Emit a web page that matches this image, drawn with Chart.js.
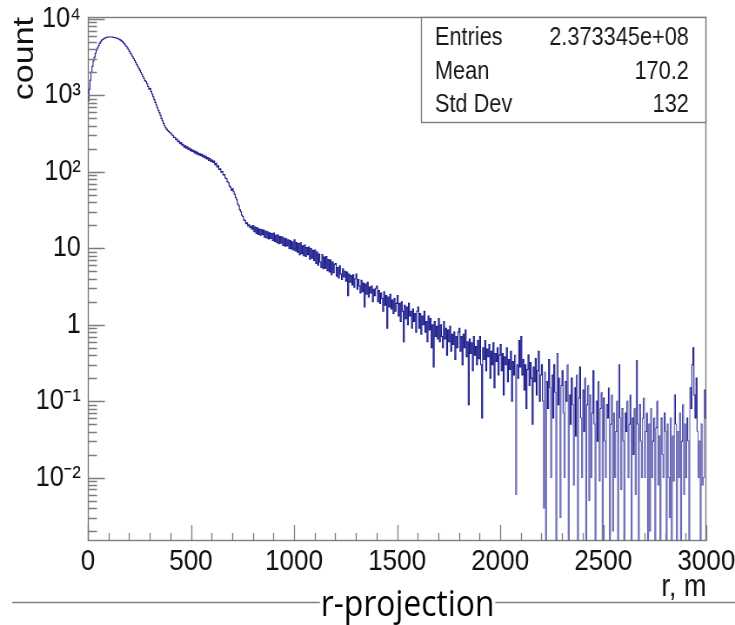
<!DOCTYPE html>
<html>
<head>
<meta charset="utf-8">
<script src="https://cdn.jsdelivr.net/npm/chart.js@4/dist/chart.umd.min.js"></script>
<style>
html,body{margin:0;padding:0;background:#ffffff;overflow:hidden;}
#wrap{width:735px;height:625px;position:relative;}
#c{display:block;width:735px;height:625px;}
</style>
</head>
<body>
<div id="wrap"><canvas id="c" width="845" height="625" style="width:735px;height:625px"></canvas></div>
<script>
// ---- data: histogram of r, 5 m bins from 0 to 3000 m (one row = 100 m) ----
const binWidth = 5;
const rMin = 0;
const rMax = 3000;
const counts = [
  850, 1200, 1580, 2000, 2400, 2820, 3160, 3550, 3890, 4170, 4470, 4790, 5010, 5250, 5370, 5500, 5620, 5690, 5750, 5790,
  5810, 5820, 5820, 5800, 5770, 5730, 5690, 5640, 5580, 5500, 5420, 5320, 5200, 5060, 4900, 4730, 4550, 4360, 4160, 3960,
  3760, 3550, 3380, 3200, 3030, 2860, 2700, 2540, 2400, 2270, 2140, 2010, 1890, 1770, 1660, 1560, 1520, 1420, 1310, 1200,
  1230, 1120, 1040, 960, 880, 810, 750, 690, 640, 595, 550, 500, 465, 430, 400, 378, 362, 348, 336, 326,
  322, 306, 300, 281, 283, 262, 268, 247, 252, 233, 241, 222, 230, 209, 219, 203, 212, 196, 204, 189,
  197, 184, 191, 176, 185, 171, 180, 166, 174, 162, 170, 158, 165, 152, 160, 147, 154, 141, 149, 137,
  143, 132, 138, 124, 129, 116, 120, 107, 110, 99, 101, 91, 92, 83, 82, 74, 72, 65, 63, 57,
  60, 55, 51, 46, 43, 38, 36, 32, 30, 27, 26, 23.5, 23, 21, 21.5, 19.6, 20.3, 18.6, 19.4, 17.8,
  19.8, 16.4, 18.9, 15.6, 18.6, 15.2, 17.9, 14.8, 17.6, 15.0, 17.3, 13.9, 16.8, 13.6, 16.4, 13.2, 15.9, 13.4, 15.6, 12.6,
  15.8, 12.3, 14.9, 11.8, 14.9, 11.5, 14.2, 11.6, 14.1, 10.9, 13.6, 10.6, 13.3, 10.7, 12.9, 9.9, 12.6, 9.8, 12.2, 9.5,
  12.9, 9.2, 11.9, 8.9, 11.5, 8.2, 11.8, 8.5, 10.8, 8.0, 11.0, 7.8, 10.2, 8.2, 10.4, 7.2, 9.9, 7.4, 9.4, 6.9,
  9.5, 6.3, 8.9, 6.0, 8.4, 6.6, 5.6, 8.3, 5.4, 7.7, 5.5, 7.8, 5.1, 7.1, 4.9, 7.0, 4.5, 6.6, 4.8, 6.2,
  6.3, 4.3, 5.6, 4.1, 5.9, 4.6, 3.9, 5.4, 4.2, 5.0, 3.7, 4.9, 2.4, 4.6, 3.6, 4.4, 3.3, 4.5, 3.1, 4.0,
  4.6, 2.9, 3.9, 3.2, 2.6, 3.8, 2.7, 3.5, 1.7, 3.4, 2.5, 3.6, 2.3, 3.1, 2.6, 3.2, 2.0, 2.9, 2.4, 3.0,
  3.2, 2.0, 2.8, 1.9, 2.6, 2.2, 1.5, 2.7, 1.8, 2.4, 0.9, 2.3, 1.7, 2.5, 1.6, 2.1, 1.4, 2.2, 1.5, 1.9,
  2.4, 1.3, 1.9, 1.1, 2.0, 1.5, 0.6, 1.8, 1.2, 1.7, 1.0, 1.9, 1.3, 1.5, 0.9, 1.6, 1.1, 1.4, 0.8, 1.5,
  1.7, 0.9, 1.4, 0.75, 1.3, 1.0, 1.5, 0.8, 1.1, 0.6, 1.3, 0.85, 1.2, 0.5, 1.0, 0.28, 1.1, 0.7, 0.95, 0.65,
  1.2, 0.6, 1.0, 0.7, 0.5, 1.1, 0.65, 0.9, 0.4, 0.85, 0.6, 0.95, 0.45, 0.75, 0.55, 0.8, 0.35, 0.7, 0.5, 0.8,
  0.9, 0.45, 0.7, 0.3, 0.75, 0.5, 0.85, 0.38, 0.6, 0.09, 0.65, 0.42, 0.58, 0.25, 0.7, 0.4, 0.52, 0.3, 0.62, 0.36,
  0.7, 0.3, 0.06, 0.5, 0.35, 0.62, 0.25, 0.48, 0.38, 0.55, 0.2, 0.45, 0.3, 0.58, 0.15, 0.42, 0.33, 0.5, 0.22, 0.4,
  0.55, 0.25, 0.42, 0.12, 0.38, 0.3, 0.5, 0.18, 0.35, 0.26, 0.45, 0.1, 0.33, 0.22, 0.4, 0.006, 0.3, 0.2, 0.62, 0.28,
  0.7, 0.22, 0.35, 0.14, 0.3, 0.08, 0.26, 0.4, 0.16, 0.32, 0.2, 0.05, 0.28, 0.18, 0.36, 0.12, 0.25, 0.45, 0.1, 0.22,
  0.3, 0.1, 0.004, 0.24, 0, 0.18, 0.08, 0.35, 0.15, 0.01, 0.22, 0.06, 0.3, 0.13, 0, 0.42, 0.09, 0.2, 0.003, 0.16,
  0.25, 0.07, 0.01, 0.18, 0.1, 0.3, 0, 0.12, 0.05, 0.2, 0.09, 0.008, 0.15, 0.035, 0.22, 0, 0.11, 0.28, 0.06, 0.01,
  0.14, 0.04, 0.2, 0, 0.09, 0.16, 0.005, 0.12, 0.01, 0.07, 0.25, 0.05, 0, 0.1, 0.03, 0.18, 0.009, 0.08, 0.13, 0,
  0.11, 0.03, 0.01, 0.09, 0.06, 0.15, 0, 0.05, 0.12, 0.002, 0.07, 0.01, 0.04, 0.1, 0, 0.3, 0.06, 0.007, 0.08, 0.03,
  0, 0.07, 0.04, 0.1, 0.01, 0.05, 0.12, 0, 0.06, 0.02, 0.08, 0.006, 0.34, 0.05, 0, 0.09, 0.03, 0.01, 0.06, 0.11,
  0.01, 0.04, 0.07, 0, 0.05, 0.002, 0.08, 0.01, 0.03, 0.06, 0, 0.045, 0.1, 0.008, 0.035, 0, 0.06, 0.02, 0.01, 0.07,
  0.04, 0, 0.05, 0.01, 0.003, 0.06, 0, 0.035, 0.009, 0.12, 0.05, 0, 0.04, 0.01, 0.07, 0, 0.03, 0.09, 0.006, 0.05,
  0.01, 0.06, 0.03, 0, 0.15, 0.08, 0.3, 0.5, 0.12, 0.06, 0.2, 0.04, 0.01, 0.03, 0, 0.05, 0.008, 0.01, 0.14, 0.06
];
const xTickLabels = ['0', '500', '1000', '1500', '2000', '2500', '3000'];
const yDecades = [1e-2, 1e-1, 1, 10, 1e2, 1e3, 1e4];
const yTickLabels = ['10\u207B\u00B2', '10\u207B\u00B9', '1', '10', '10\u00B2', '10\u00B3', '10\u2074'];
const statsNames = ['Entries', 'Mean', 'Std Dev'];
const statsValues = ['2.373345e+08', '170.2', '132'];
const xTitle = 'r, m';
const yTitle = 'count';
const caption = 'r-projection';

// ---- styling (canvas is drawn 845 px wide and shown 735 px wide, like the squeezed original) ----
const SANS = "'Liberation Sans', Arial, Helvetica, sans-serif";
const yMin = 0.00148, yMax = 10600;
const EMPTY = 1e-5; // empty bins are drawn down to the frame bottom, as ROOT does
const frameColor = '#7c7c7c';
const lineColor = '#15158a';
const dropColor = '#6262b4';

const points = counts.map((c, i) => ({x: rMin + i * binWidth, y: c > 0 ? c : EMPTY}));
points.push({x: rMax, y: points[points.length - 1].y});

const xTickValues = [];
for (let v = rMin; v <= rMax; v += 100) xTickValues.push(v);
const yTickValues = [];
for (let e = -3; e <= 4; e++) {
  for (let m = 1; m <= 9; m++) {
    const v = +(m * Math.pow(10, e)).toPrecision(6);
    if (v >= yMin && v <= yMax) yTickValues.push(v);
  }
}
function decadeIndex(v) { return yDecades.findIndex(d => Math.abs(d - v) / d < 1e-6); }

const framePlugin = {
  id: 'rootFrame',
  beforeDatasetsDraw(chart) {
    const {ctx, chartArea: a} = chart;
    ctx.save();
    ctx.strokeStyle = frameColor;
    ctx.lineWidth = 1.4;
    ctx.strokeRect(a.left + 0.5, a.top + 0.5, a.right - a.left - 1, a.bottom - a.top - 1);
    ctx.restore();
  },
  afterDatasetsDraw(chart) {
    const {ctx, chartArea: a, scales} = chart;
    const xs = scales.x, ys = scales.y;
    ctx.save();
    ctx.strokeStyle = frameColor;
    ctx.lineWidth = 1.3;
    ctx.beginPath();
    ys.ticks.forEach(t => {
      const py = Math.round(ys.getPixelForValue(t.value)) + 0.5;
      const len = decadeIndex(t.value) >= 0 ? 19.5 : 10.5;
      ctx.moveTo(a.left, py);
      ctx.lineTo(a.left + len, py);
    });
    xs.ticks.forEach(t => {
      const px = Math.round(xs.getPixelForValue(t.value)) + 0.5;
      const len = (t.value % 500 === 0) ? 16 : 8;
      ctx.moveTo(px, a.bottom);
      ctx.lineTo(px, a.bottom - len);
    });
    ctx.stroke();
    ctx.restore();
  },
  afterDraw(chart) {
    const {ctx, chartArea: a} = chart;
    // statistics box
    const bx = 484, by = a.top, bw = a.right - 484, bh = 106;
    ctx.save();
    ctx.fillStyle = '#ffffff';
    ctx.fillRect(bx, by, bw, bh);
    ctx.strokeStyle = frameColor;
    ctx.lineWidth = 1.4;
    ctx.strokeRect(bx + 0.5, by + 0.5, bw - 1, bh - 1);
    ctx.fillStyle = '#1a1a1a';
    ctx.font = '25px ' + SANS;
    ctx.textBaseline = 'alphabetic';
    const baselines = [45, 79, 112];
    statsNames.forEach((n, i) => {
      ctx.textAlign = 'left';
      ctx.fillText(n, 500, baselines[i]);
      ctx.textAlign = 'right';
      ctx.fillText(statsValues[i], 792, baselines[i]);
    });
    // slide caption with its rule
    ctx.strokeStyle = '#808080';
    ctx.lineWidth = 1.5;
    ctx.beginPath();
    ctx.moveTo(14, 602.5);
    ctx.lineTo(845, 602.5);
    ctx.stroke();
    ctx.font = "36.5px 'Open Sans', 'Noto Sans', sans-serif";
    ctx.textAlign = 'center';
    ctx.textBaseline = 'alphabetic';
    const w = ctx.measureText(caption).width;
    ctx.fillStyle = '#ffffff';
    ctx.fillRect(468.5 - w / 2 - 1, 598, w + 2, 8);
    ctx.fillStyle = '#000000';
    ctx.fillText(caption, 468.5, 615.5);
    ctx.restore();
  }
};

new Chart(document.getElementById('c'), {
  type: 'line',
  data: {
    datasets: [{
      label: 'r-projection',
      data: points,
      stepped: true,
      borderColor: lineColor,
      borderWidth: 1.05,
      pointRadius: 0,
      fill: false,
      tension: 0,
      segment: {
        borderColor: c => (c.p0.parsed.y < 0.012 || c.p1.parsed.y < 0.012) ? dropColor : lineColor
      }
    }]
  },
  options: {
    responsive: false,
    animation: false,
    devicePixelRatio: 1,
    layout: {padding: {left: 0, top: 17, right: 33, bottom: 0}},
    plugins: {legend: {display: false}, tooltip: {enabled: false}, title: {display: false}},
    scales: {
      x: {
        type: 'linear',
        min: rMin,
        max: rMax,
        afterBuildTicks: s => { s.ticks = xTickValues.map(v => ({value: v})); },
        afterFit: s => { s.height = 84; s.paddingLeft = 0; s.paddingRight = 0; },
        grid: {display: false, drawTicks: false},
        border: {display: false},
        ticks: {
          autoSkip: false,
          maxRotation: 0,
          padding: 6,
          color: '#111111',
          font: {family: SANS, size: 30, lineHeight: 1},
          callback: v => { const k = xTickLabels.indexOf(String(v)); return k >= 0 ? xTickLabels[k] : ''; }
        },
        title: {
          display: true,
          text: xTitle,
          align: 'end',
          color: '#111111',
          font: {family: SANS, size: 31, lineHeight: 1},
          padding: {top: 0, bottom: 22}
        }
      },
      y: {
        type: 'logarithmic',
        min: yMin,
        max: yMax,
        afterBuildTicks: s => { s.ticks = yTickValues.map(v => ({value: v})); },
        afterFit: s => { s.width = 101; s.paddingTop = 0; s.paddingBottom = 0; },
        grid: {display: false, drawTicks: false},
        border: {display: false},
        ticks: {
          autoSkip: false,
          padding: 8,
          color: '#111111',
          font: {family: SANS, size: 29, lineHeight: 1},
          callback: v => { const k = decadeIndex(v); return k >= 0 ? yTickLabels[k] : ''; }
        },
        title: {
          display: true,
          text: yTitle,
          align: 'end',
          color: '#111111',
          font: {family: SANS, size: 34, lineHeight: 1.2},
          padding: {top: 8, bottom: 0}
        }
      }
    }
  },
  plugins: [framePlugin]
});
</script>
</body>
</html>
